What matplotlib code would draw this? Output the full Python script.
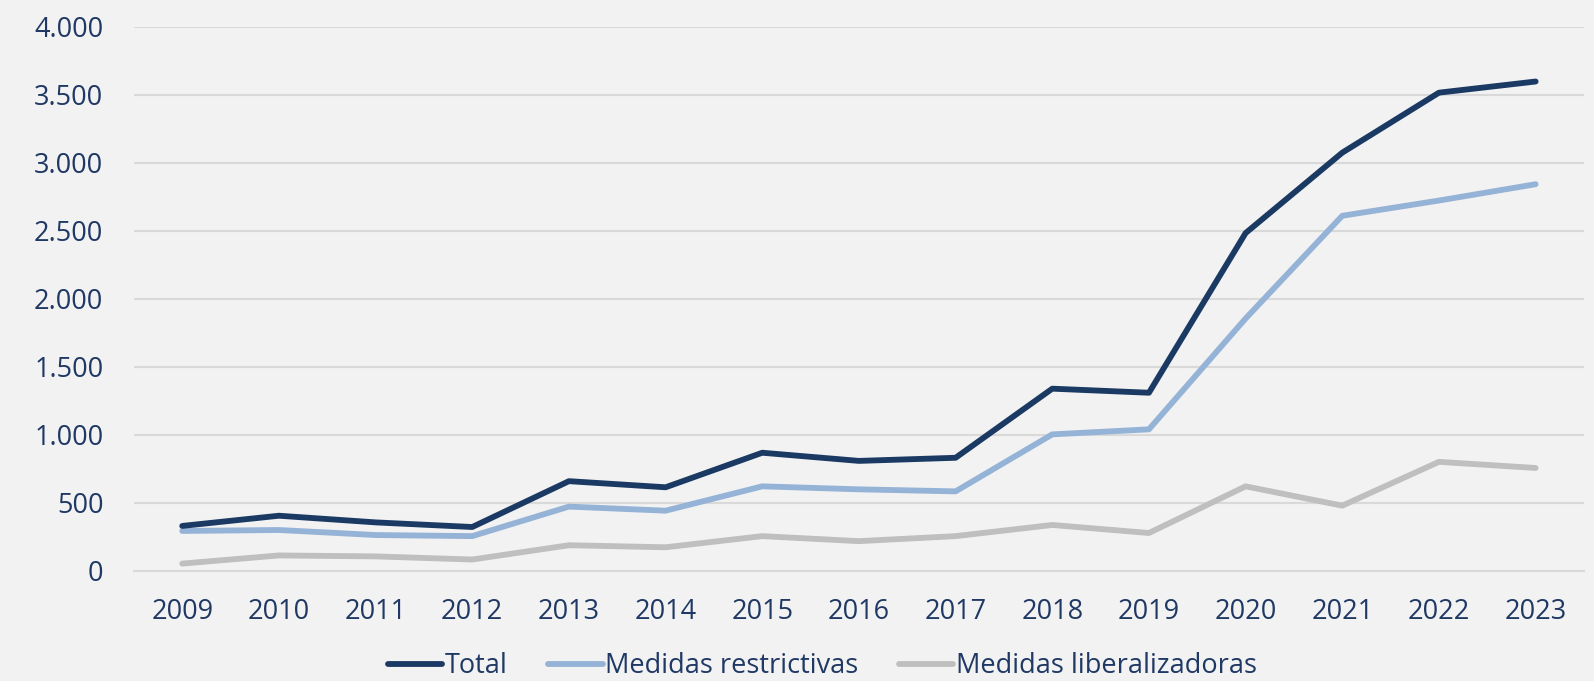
import matplotlib
matplotlib.use("Agg")
import matplotlib.pyplot as plt
from matplotlib.ticker import FuncFormatter

years = ["2009", "2010", "2011", "2012", "2013", "2014", "2015", "2016",
         "2017", "2018", "2019", "2020", "2021", "2022", "2023"]
total = [329, 404, 355, 321, 658, 613, 867, 807, 830, 1338, 1308, 2482, 3073, 3514, 3596]
restrictivas = [292, 299, 262, 254, 471, 441, 620, 598, 583, 1002, 1039, 1854, 2609, 2721, 2841]
liberalizadoras = [52, 112, 105, 82, 187, 172, 254, 217, 254, 336, 277, 620, 478, 800, 755]
yticks = [0, 500, 1000, 1500, 2000, 2500, 3000, 3500, 4000]

bg = "#f2f2f2"
txt = "#1f3864"
plt.rcParams['font.family'] = ['Open Sans', 'DejaVu Sans']

fig = plt.figure(figsize=(15.94, 6.81), dpi=100, facecolor=bg)
ax = fig.add_axes([0.084, 0.162, 0.9097, 0.799], facecolor=bg)

x = list(range(len(years)))
lw = 4.2
ax.plot(x, total, color="#1a3a63", lw=lw, solid_capstyle="round", label="Total", zorder=4)
ax.plot(x, restrictivas, color="#95b3d7", lw=lw, solid_capstyle="round", label="Medidas restrictivas", zorder=3)
ax.plot(x, liberalizadoras, color="#bfbfbf", lw=lw, solid_capstyle="round", label="Medidas liberalizadoras", zorder=2)

ax.set_xlim(-0.5, len(years) - 0.5)
ax.set_ylim(0, 4000)
ax.set_yticks(yticks)
ax.yaxis.set_major_formatter(FuncFormatter(lambda v, p: f"{int(v):,}".replace(",", ".")))
ax.set_xticks(x)
ax.set_xticklabels(years)
ax.grid(axis="y", color="#d9d9d9", lw=1.5)
ax.set_axisbelow(True)
for s in ax.spines.values():
    s.set_visible(False)
ax.spines["bottom"].set_visible(True)
ax.spines["bottom"].set_color("#d9d9d9")
ax.spines["bottom"].set_linewidth(1.5)
ax.tick_params(axis="both", length=0, labelsize=19.5, labelcolor=txt)
ax.tick_params(axis="y", pad=22)
ax.tick_params(axis="x", pad=20)

leg = fig.legend(loc="lower center", bbox_to_anchor=(0.516, -0.035), ncol=3, frameon=False,
                 handlelength=2.0, handletextpad=0.1, columnspacing=1.5,
                 prop={"size": 19.5})
for t in leg.get_texts():
    t.set_color(txt)

fig.savefig("out.png", dpi=100, facecolor=bg)
